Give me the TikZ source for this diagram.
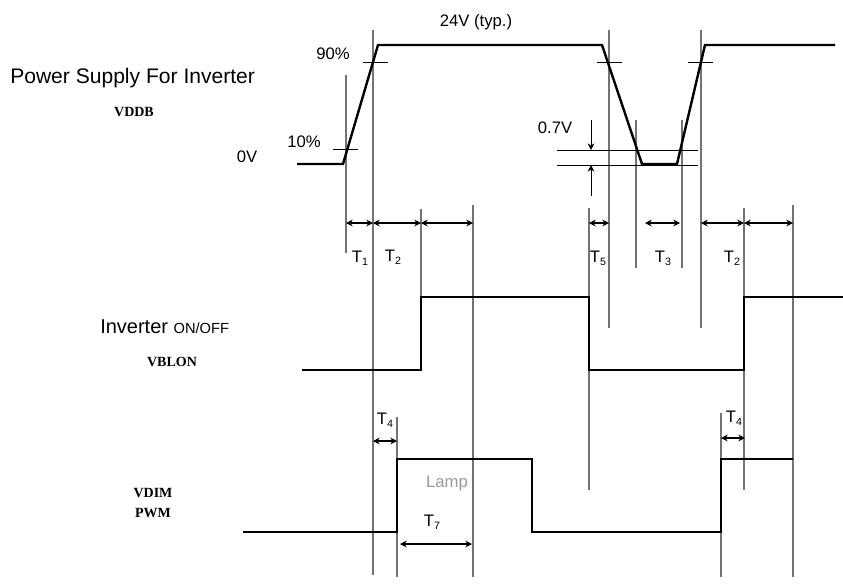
\documentclass[tikz,border=0pt]{standalone}
\usepackage{fontspec}
\setmainfont{Liberation Sans}
\newfontfamily\sigfont{Liberation Serif}
\usetikzlibrary{arrows.meta}

\newcommand\tname[1]{T\raisebox{-0.3ex}{\footnotesize #1}}

\begin{document}
\begin{tikzpicture}[x=0.75pt, y=-0.75pt, >={Stealth[length=5pt, width=5pt]},
  wave/.style={line width=1.8pt, line join=miter},
  guide/.style={draw=black!55, line width=1pt},
  tickline/.style={line width=0.7pt},
  span/.style={<->, line width=0.9pt},
  lbl/.style={inner sep=0pt, font=\fontsize{12.5}{14}\selectfont},
  sig/.style={inner sep=0pt, font=\sigfont\bfseries\fontsize{10.5}{12}\selectfont}]
  \useasboundingbox (0,0) rectangle (843,583);
  % lineas guia verticales
  \draw[guide] (346,75)--(346,253);
  \draw[guide] (373,30)--(373,575);
  \draw[guide] (421,209)--(421,297);
  \draw[guide] (473,205)--(473,577);
  \draw[guide] (397,417)--(397,577);
  \draw[guide] (589,208)--(589,490);
  \draw[guide] (609,30)--(609,328);
  \draw[guide] (636,120)--(636,268);
  \draw[guide] (682,120)--(682,268);
  \draw[guide] (701,30)--(701,328);
  \draw[guide] (721,413)--(721,577);
  \draw[guide] (744,208)--(744,490);
  \draw[guide] (793,205)--(793,577);
  % VDDB
  \draw[wave] (297,164)--(343,164)--(378,45)--(602,45)--(642,164)--(677,164)--(705,45)--(835,45);
  \draw[tickline] (333,149)--(358,149) (363,62)--(388,62) (597,62)--(622,62) (688,62)--(713,62);
  \draw[tickline] (557,150)--(698,150) (557,165)--(698,165);
  \draw[->, tickline] (591,120)--(591,150);
  \draw[->, tickline] (591,196)--(591,165);
  % VBLON
  \draw[wave] (302,370)--(421,370)--(421,297)--(589,297)--(589,370)--(744,370)--(744,297)--(843,297);
  % VDIM / PWM
  \draw[wave] (243,532)--(397,532)--(397,459)--(532,459)--(532,532)--(721,532)--(721,459)--(793,459);
  % tiempos
  \draw[span] (346,223)--(373,223);
  \draw[span] (373,223)--(421,223);
  \draw[span] (421,223)--(473,223);
  \draw[span] (589,223)--(609,223);
  \draw[span] (645,223)--(680,223);
  \draw[span] (701,223)--(744,223);
  \draw[span] (744,223)--(793,223);
  \draw[span] (373,441)--(397,441);
  \draw[span] (721,438)--(745,438);
  \draw[span] (400,544)--(472,544);
  % etiquetas
  \node[lbl, anchor=west, font=\fontsize{15.8}{18}\selectfont] (psu) at (10,78) {Power Supply For Inverter};
  \node[sig] (vddb) at (134,112) {VDDB};
  \node[lbl] (zero) at (247,157) {0V};
  \node[lbl] (ten) at (304,142) {10\%};
  \node[lbl] (ninety) at (333,54) {90\%};
  \node[lbl] (typ) at (476,22) {24V (typ.)};
  \node[lbl] (drop) at (555,128) {0.7V};
  \node[lbl, anchor=west, font=\fontsize{15}{17}\selectfont] (inv) at (100,327) {Inverter {\fontsize{11}{13}\selectfont ON/OFF}};
  \node[sig] (vblon) at (172,362) {VBLON};
  \node[sig] (vdim) at (153,493) {VDIM};
  \node[sig] (pwm) at (153,513) {PWM};
  \node[lbl, text=black!40] (lamp) at (447,483) {Lamp};
  \node[lbl] (t1) at (360,258) {\tname{1}};
  \node[lbl] (t2a) at (393,257) {\tname{2}};
  \node[lbl] (t5) at (598,258) {\tname{5}};
  \node[lbl] (t3) at (663,258) {\tname{3}};
  \node[lbl] (t2b) at (732,258) {\tname{2}};
  \node[lbl] (t4a) at (385,420) {\tname{4}};
  \node[lbl] (t4b) at (734,418) {\tname{4}};
  \node[lbl] (t7) at (432,522) {\tname{7}};
\end{tikzpicture}
\end{document}
